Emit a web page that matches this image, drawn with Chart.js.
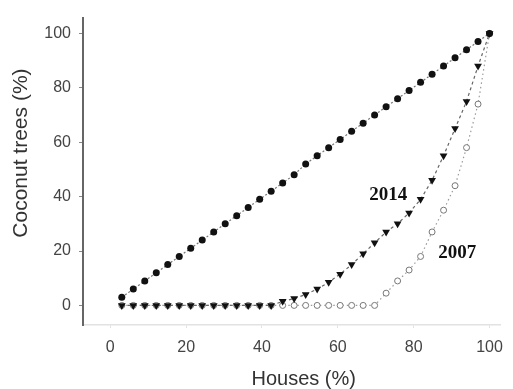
<!DOCTYPE html>
<html>
<head>
<meta charset="utf-8">
<script src="https://cdn.jsdelivr.net/npm/chart.js@4"></script>
<style>
  html, body { margin: 0; padding: 0; background: #fff; }
  #wrap { width: 513px; height: 389px; }
</style>
</head>
<body>
<div id="wrap"><canvas id="c" width="513" height="389"></canvas></div>
<script>
// ---- data ----
const housesPct = [3.03, 6.06, 9.09, 12.12, 15.15, 18.18, 21.21, 24.24, 27.27, 30.30, 33.33,
  36.36, 39.39, 42.42, 45.45, 48.48, 51.52, 54.55, 57.58, 60.61, 63.64, 66.67, 69.70,
  72.73, 75.76, 78.79, 81.82, 84.85, 87.88, 90.91, 93.94, 96.97, 100];
const equality = [3, 6, 9, 12, 15, 18, 21, 24, 27, 30, 33, 36, 39, 42, 45, 48, 52, 55, 58, 61,
  64, 67, 70, 73, 76, 79, 82, 85, 88, 91, 94, 97, 100];
const trees2014 = [0, 0, 0, 0, 0, 0, 0, 0, 0, 0, 0, 0, 0, 0, 1.5, 2.5, 4, 6, 8.5, 11.5,
  15, 19, 23, 27, 30, 34, 39, 46, 55, 65, 75, 88, 100];
const trees2007 = [0, 0, 0, 0, 0, 0, 0, 0, 0, 0, 0, 0, 0, 0, 0, 0, 0, 0, 0, 0, 0, 0, 0,
  4.5, 9, 13, 18, 27, 35, 44, 58, 74, 100];
const xTicks = [0, 20, 40, 60, 80, 100];
const yTicks = [0, 20, 40, 60, 80, 100];
const seriesLabels = ['Equality', '2014', '2007'];
const xTitle = 'Houses (%)';
const yTitle = 'Coconut trees (%)';
const annotations = [
  { text: '2014', x: 73.3, y: 40.6 },
  { text: '2007', x: 91.5, y: 19.4 }
];

const pts = (ys) => housesPct.map((x, i) => ({ x: x, y: ys[i] }));

const labelPlugin = {
  id: 'labels',
  afterDatasetsDraw(chart) {
    const ctx = chart.ctx, xs = chart.scales.x, ys = chart.scales.y;
    ctx.save();
    ctx.font = 'bold 19px "Liberation Serif", serif';
    ctx.fillStyle = '#111';
    ctx.textAlign = 'center';
    ctx.textBaseline = 'middle';
    annotations.forEach(a => ctx.fillText(a.text, xs.getPixelForValue(a.x), ys.getPixelForValue(a.y)));
    // axis titles
    ctx.fillStyle = '#333';
    ctx.font = '20px "Liberation Sans", Arial, sans-serif';
    ctx.fillText(xTitle, xs.getPixelForValue(51), 379);
    ctx.translate(21, ys.getPixelForValue(56));
    ctx.rotate(-Math.PI / 2);
    ctx.font = '21px "Liberation Sans", Arial, sans-serif';
    ctx.fillText(yTitle, 0, 0);
    ctx.restore();
  }
};

new Chart(document.getElementById('c'), {
  type: 'scatter',
  data: {
    datasets: [
      {
        label: seriesLabels[2], data: pts(trees2007), showLine: true,
        borderColor: '#9a9a9a', borderWidth: 1.2, borderDash: [1.5, 3],
        pointStyle: 'circle', pointRadius: 3, pointBorderColor: '#777', pointBorderWidth: 1,
        pointBackgroundColor: '#fff', order: 3
      },
      {
        label: seriesLabels[1], data: pts(trees2014), showLine: true,
        borderColor: '#666', borderWidth: 1.2, borderDash: [3, 3],
        pointStyle: 'triangle', rotation: 180, pointRadius: 4.5, pointBorderWidth: 0,
        pointBackgroundColor: '#111', pointBorderColor: '#111', order: 2
      },
      {
        label: seriesLabels[0], data: pts(equality), showLine: true,
        borderColor: '#777', borderWidth: 1.2, borderDash: [2, 2],
        pointStyle: 'circle', pointRadius: 3.5, pointBorderWidth: 0,
        pointBackgroundColor: '#111', pointBorderColor: '#111', order: 1
      }
    ]
  },
  options: {
    responsive: false,
    animation: false,
    layout: { padding: { top: 11, right: 4, left: 0, bottom: 0 } },
    plugins: { legend: { display: false }, tooltip: { enabled: false } },
    scales: {
      x: {
        type: 'linear', min: -7.2, max: 102.8,
        afterBuildTicks: (s) => { s.ticks = xTicks.map(v => ({ value: v })); },
        afterFit: (s) => { s.height = 64; },
        border: { display: true, color: '#e2e2e2', width: 1.5 },
        grid: { display: true, drawOnChartArea: false, drawTicks: true, tickLength: 3, color: '#e2e2e2' },
        ticks: { padding: 10, color: '#444', font: { family: '"Liberation Sans", Arial, sans-serif', size: 16 } },
        title: { display: false }
      },
      y: {
        type: 'linear', min: -7.2, max: 105.8,
        afterBuildTicks: (s) => { s.ticks = yTicks.map(v => ({ value: v })); },
        afterFit: (s) => { s.width = 83; },
        border: { display: true, color: '#666', width: 2 },
        grid: { display: true, drawOnChartArea: false, drawTicks: true, tickLength: 4, color: '#888' },
        ticks: { padding: 8, color: '#444', font: { family: '"Liberation Sans", Arial, sans-serif', size: 16 } },
        title: { display: false }
      }
    }
  },
  plugins: [labelPlugin]
});
</script>
</body>
</html>
